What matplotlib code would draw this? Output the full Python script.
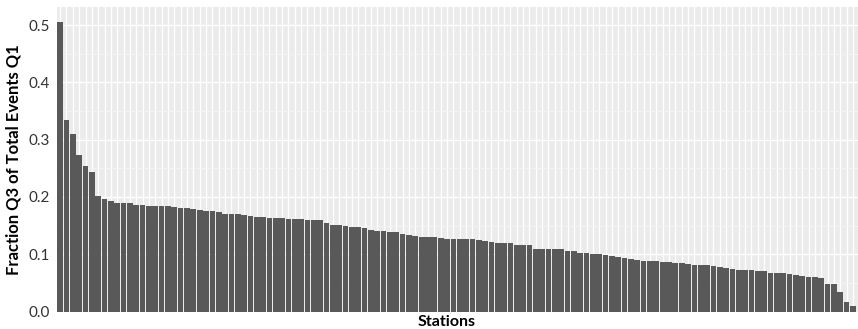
import numpy as np
import matplotlib.pyplot as plt

# fraction per station, sorted descending
fractions = [
    0.505, 0.335, 0.309, 0.274, 0.254, 0.243, 0.201, 0.196, 0.193, 0.189,
    0.189, 0.189, 0.186, 0.186, 0.184, 0.184, 0.184, 0.184, 0.183, 0.181,
    0.180, 0.179, 0.177, 0.176, 0.175, 0.174, 0.171, 0.170, 0.170, 0.168,
    0.166, 0.165, 0.165, 0.164, 0.164, 0.163, 0.162, 0.162, 0.161, 0.159,
    0.159, 0.159, 0.155, 0.151, 0.151, 0.149, 0.148, 0.147, 0.145, 0.142,
    0.140, 0.140, 0.138, 0.138, 0.136, 0.133, 0.132, 0.130, 0.130, 0.130,
    0.128, 0.127, 0.127, 0.127, 0.127, 0.127, 0.125, 0.123, 0.122, 0.120,
    0.119, 0.119, 0.117, 0.116, 0.116, 0.110, 0.110, 0.110, 0.110, 0.109,
    0.106, 0.105, 0.103, 0.102, 0.101, 0.100, 0.099, 0.097, 0.095, 0.094,
    0.092, 0.090, 0.089, 0.089, 0.088, 0.087, 0.086, 0.085, 0.084, 0.083,
    0.081, 0.081, 0.081, 0.080, 0.077, 0.076, 0.075, 0.073, 0.072, 0.072,
    0.071, 0.071, 0.068, 0.068, 0.068, 0.065, 0.063, 0.062, 0.061, 0.060,
    0.058, 0.048, 0.048, 0.035, 0.016, 0.010,
]
stations = np.arange(len(fractions))
y_ticks = [0.0, 0.1, 0.2, 0.3, 0.4, 0.5]
y_minor = [0.05, 0.15, 0.25, 0.35, 0.45]

plt.rcParams['font.family'] = ['Lato', 'DejaVu Sans']

fig = plt.figure(figsize=(8.58, 3.29), dpi=100)
ax = fig.add_axes([0.0664, 0.0495, 0.9336, 0.9285])
ax.set_facecolor('#EBEBEB')

# ggplot-like grid: white major lines, thinner minor ones
for x in stations:
    ax.axvline(x, color='white', lw=1.0, zorder=1)
for y in y_ticks:
    ax.axhline(y, color='white', lw=1.0, zorder=1)
for y in y_minor:
    ax.axhline(y, color='#F5F5F5', lw=0.6, zorder=1)

ax.bar(stations, fractions, width=0.9, color='#595959', zorder=2)

ax.set_xlim(-0.5, len(fractions) - 0.2)
ax.set_ylim(-0.002, 0.531)
ax.set_yticks(y_ticks)
ax.set_yticklabels([f"{v:.1f}" for v in y_ticks], fontsize=11, color='#333333')
ax.set_xticks([])
ax.tick_params(axis='y', length=0, pad=5)
for s in ax.spines.values():
    s.set_visible(False)

ax.set_ylabel("Fraction Q3 of Total Events Q1", fontsize=12, fontweight='bold',
              va='center')
ax.yaxis.set_label_coords(-0.0537, 0.5)
ax.set_xlabel("Stations", fontsize=11.5, fontweight='bold', va='top')
ax.xaxis.set_label_coords(0.486, -0.009)

fig.savefig('out.png', dpi=100)
